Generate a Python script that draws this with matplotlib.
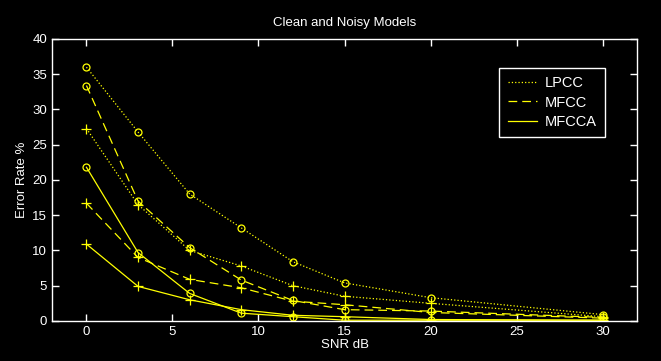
import matplotlib.pyplot as plt
import numpy as np

snr = [0, 3, 6, 9, 12, 15, 20, 30]

# error rates (%); clean models = 'o', noisy models = '+'
lpcc_clean = [36.0, 26.8, 18.0, 13.2, 8.4, 5.4, 3.3, 0.9]
lpcc_noisy = [27.3, 16.5, 10.0, 7.8, 5.0, 3.5, 2.5, 0.6]
mfcc_clean = [33.4, 17.0, 10.4, 5.8, 2.9, 1.6, 1.4, 0.5]
mfcc_noisy = [16.7, 9.0, 5.9, 4.7, 2.8, 2.3, 1.2, 0.4]
mfcca_clean = [21.8, 9.7, 3.9, 1.1, 0.6, 0.1, 0.1, 0.1]
mfcca_noisy = [10.9, 4.9, 3.0, 1.6, 0.8, 0.6, 0.2, 0.1]

plt.rcParams['font.family'] = ['Liberation Sans', 'DejaVu Sans']
plt.rcParams['font.size'] = 9.5

fig = plt.figure(figsize=(6.61, 3.61), dpi=100, facecolor='black')
ax = fig.add_axes([0.0787, 0.111, 0.885, 0.781])
ax.set_facecolor('black')

yellow = '#ffff00'
lw = 0.9
ms = 5

series = [
    ('LPCC', ':', lpcc_clean, lpcc_noisy),
    ('MFCC', (0, (7, 4)), mfcc_clean, mfcc_noisy),
    ('MFCCA', '-', mfcca_clean, mfcca_noisy),
]

for name, ls, clean, noisy in series:
    ax.plot(snr, clean, linestyle=ls, color=yellow, lw=lw, label=name)
    ax.plot(snr, noisy, linestyle=ls, color=yellow, lw=lw)
    ax.plot(snr, clean, 'o', color=yellow, mfc='none', ms=ms, mew=0.9)
    ax.plot(snr, noisy, '+', color=yellow, ms=ms + 1.5, mew=0.9)

ax.set_xlim(-2, 32)
ax.set_ylim(0, 40)
ax.set_xticks(np.arange(0, 31, 5))
ax.set_yticks(np.arange(0, 41, 5))

for s in ax.spines.values():
    s.set_color('white')
    s.set_linewidth(1)
ax.tick_params(direction='in', colors='white', length=5, width=1,
               top=True, right=True, labelsize=9.5)

ax.set_title('Clean and Noisy Models', color='white', fontsize=9.5, pad=9)
ax.set_xlabel('SNR dB', color='white', labelpad=1)
ax.set_ylabel('Error Rate %', color='white', labelpad=3)

leg = ax.legend(loc='upper right', bbox_to_anchor=(0.958, 0.924),
                facecolor='black', edgecolor='white', labelcolor='white',
                fancybox=False, framealpha=1, handlelength=2.0,
                handletextpad=0.5, borderpad=0.6, labelspacing=0.35,
                fontsize=10.5)
leg.get_frame().set_linewidth(1)

fig.savefig('out.png', dpi=100, facecolor='black')
